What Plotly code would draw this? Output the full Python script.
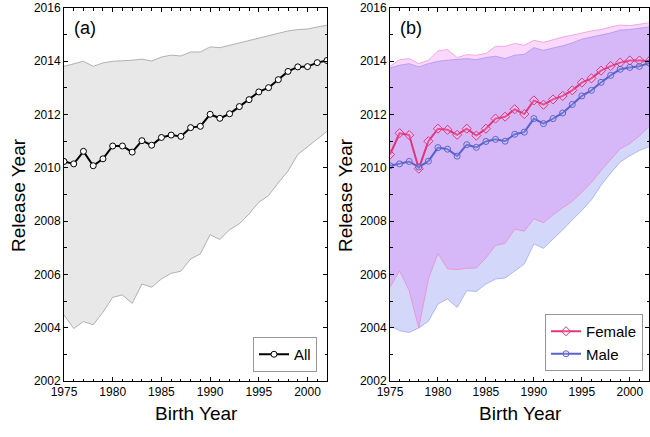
import plotly.graph_objects as go

years = list(range(1975, 2003))

all_mean = [2010.24, 2010.15, 2010.62, 2010.08, 2010.34, 2010.82, 2010.82, 2010.59, 2011.02, 2010.85,
            2011.14, 2011.23, 2011.18, 2011.51, 2011.56, 2012.01, 2011.86, 2012.03, 2012.30, 2012.56,
            2012.85, 2013.01, 2013.31, 2013.62, 2013.79, 2013.80, 2013.95, 2014.03]
all_upper = [2013.81, 2013.91, 2014.00, 2013.81, 2013.94, 2014.00, 2014.01, 2014.04, 2014.08, 2014.01,
             2014.16, 2014.23, 2014.20, 2014.35, 2014.35, 2014.54, 2014.51, 2014.60, 2014.69, 2014.79,
             2014.88, 2014.97, 2015.04, 2015.14, 2015.19, 2015.21, 2015.29, 2015.35]
all_lower = [2004.48, 2003.97, 2004.23, 2004.11, 2004.58, 2005.14, 2005.23, 2004.91, 2005.64, 2005.52,
             2005.83, 2006.04, 2006.12, 2006.58, 2006.77, 2007.49, 2007.31, 2007.68, 2007.90, 2008.27,
             2008.71, 2008.96, 2009.44, 2009.88, 2010.50, 2010.78, 2011.09, 2011.37]

female_mean = [2010.50, 2011.30, 2011.23, 2009.97, 2011.00, 2011.47, 2011.43, 2011.24, 2011.47, 2011.21,
               2011.47, 2011.85, 2011.92, 2012.20, 2012.02, 2012.53, 2012.37, 2012.57, 2012.70, 2012.91,
               2013.20, 2013.36, 2013.65, 2013.82, 2013.95, 2014.03, 2014.03, 2014.00]
female_upper = [2013.81, 2014.06, 2014.10, 2013.91, 2014.04, 2014.39, 2014.44, 2014.14, 2014.25, 2014.23,
                2014.29, 2014.56, 2014.56, 2014.67, 2014.60, 2014.79, 2014.71, 2014.82, 2014.91, 2014.98,
                2015.06, 2015.14, 2015.19, 2015.29, 2015.36, 2015.34, 2015.39, 2015.45]
female_lower = [2005.52, 2006.14, 2005.39, 2003.99, 2005.83, 2006.79, 2006.21, 2006.18, 2006.23, 2006.24,
                2006.62, 2007.09, 2007.17, 2007.70, 2007.62, 2008.09, 2007.94, 2008.24, 2008.50, 2008.75,
                2009.09, 2009.46, 2009.90, 2010.32, 2010.72, 2010.91, 2011.20, 2011.55]

male_mean = [2010.08, 2010.15, 2010.24, 2010.03, 2010.25, 2010.76, 2010.70, 2010.44, 2010.87, 2010.77,
             2010.99, 2011.07, 2011.00, 2011.26, 2011.34, 2011.85, 2011.66, 2011.85, 2012.06, 2012.38,
             2012.70, 2012.91, 2013.21, 2013.47, 2013.70, 2013.77, 2013.81, 2013.94]
male_upper = [2013.75, 2013.85, 2013.91, 2013.79, 2013.91, 2014.00, 2014.04, 2014.08, 2014.10, 2014.06,
              2014.14, 2014.19, 2014.10, 2014.23, 2014.26, 2014.51, 2014.41, 2014.50, 2014.58, 2014.69,
              2014.83, 2014.91, 2014.98, 2015.06, 2015.17, 2015.19, 2015.24, 2015.29]
male_lower = [2004.08, 2003.89, 2003.82, 2003.99, 2004.24, 2004.89, 2005.08, 2004.76, 2005.39, 2005.36,
              2005.64, 2005.83, 2005.87, 2006.14, 2006.39, 2007.15, 2006.98, 2007.33, 2007.67, 2008.05,
              2008.40, 2008.80, 2009.35, 2009.80, 2010.22, 2010.45, 2010.65, 2010.80]

x_ticks = [1975, 1980, 1985, 1990, 1995, 2000]
y_ticks = [2002, 2004, 2006, 2008, 2010, 2012, 2014, 2016]
x_range = [1975, 2002]
y_range = [2002, 2016]

FONT = "Arial, Liberation Sans, sans-serif"
W, H = 650, 437
FEM = "rgb(226,52,122)"
MAL = "rgb(88,98,204)"


def fx(px):
    return px / W


def fy(py):
    return (H - py) / H


fig = go.Figure()

# ---- panel (a)
fig.add_trace(go.Scatter(x=years, y=all_lower, mode="lines", line=dict(color="rgb(160,160,160)", width=0.8),
                         showlegend=False, hoverinfo="skip", xaxis="x", yaxis="y"))
fig.add_trace(go.Scatter(x=years, y=all_upper, mode="lines", line=dict(color="rgb(160,160,160)", width=0.8),
                         fill="tonexty", fillcolor="rgb(232,232,232)",
                         showlegend=False, hoverinfo="skip", xaxis="x", yaxis="y"))
fig.add_trace(go.Scatter(x=years, y=all_mean, mode="lines+markers", name="All",
                         line=dict(color="black", width=2),
                         marker=dict(symbol="circle", size=6, color="white", line=dict(color="black", width=1)),
                         legend="legend", xaxis="x", yaxis="y"))

# ---- panel (b)
fig.add_trace(go.Scatter(x=years, y=male_lower, mode="lines", line=dict(color="rgb(160,170,240)", width=0.8),
                         showlegend=False, hoverinfo="skip", xaxis="x2", yaxis="y2"))
fig.add_trace(go.Scatter(x=years, y=male_upper, mode="lines", line=dict(color="rgb(160,170,240)", width=0.8),
                         fill="tonexty", fillcolor="rgba(80,100,240,0.25)",
                         showlegend=False, hoverinfo="skip", xaxis="x2", yaxis="y2"))
fig.add_trace(go.Scatter(x=years, y=female_lower, mode="lines", line=dict(color="rgb(235,140,200)", width=0.8),
                         showlegend=False, hoverinfo="skip", xaxis="x2", yaxis="y2"))
fig.add_trace(go.Scatter(x=years, y=female_upper, mode="lines", line=dict(color="rgb(240,150,215)", width=0.8),
                         fill="tonexty", fillcolor="rgba(230,60,240,0.2)",
                         showlegend=False, hoverinfo="skip", xaxis="x2", yaxis="y2"))
fig.add_trace(go.Scatter(x=years, y=female_mean, mode="lines+markers", name="Female",
                         line=dict(color=FEM, width=2),
                         marker=dict(symbol="diamond", size=7, color="rgba(255,255,255,0.15)", line=dict(color=FEM, width=1)),
                         legend="legend2", xaxis="x2", yaxis="y2"))
fig.add_trace(go.Scatter(x=years, y=male_mean, mode="lines+markers", name="Male",
                         line=dict(color=MAL, width=2),
                         marker=dict(symbol="circle", size=6, color="rgba(255,255,255,0.15)", line=dict(color=MAL, width=1)),
                         legend="legend2", xaxis="x2", yaxis="y2"))


def xax(domain, anchor):
    return dict(domain=domain, anchor=anchor, range=x_range, tickvals=x_ticks,
                ticks="inside", ticklen=4, tickcolor="black", tickwidth=1,
                minor=dict(dtick=1, tick0=1975, ticks="inside", ticklen=2.5, tickcolor="black"),
                showline=True, linecolor="black", linewidth=1, mirror="ticks",
                showgrid=False, zeroline=False, automargin=False, ticklabeloverflow="allow",
                tickfont=dict(family=FONT, size=12, color="black"))


def yax(domain, anchor):
    return dict(domain=domain, anchor=anchor, range=y_range, tickvals=y_ticks,
                ticks="inside", ticklen=4, tickcolor="black", tickwidth=1,
                minor=dict(dtick=1, tick0=2002, ticks="inside", ticklen=2.5, tickcolor="black"),
                showline=True, linecolor="black", linewidth=1, mirror="ticks",
                showgrid=False, zeroline=False, automargin=False, ticklabeloverflow="allow",
                tickfont=dict(family=FONT, size=12, color="black"))


def x_out(over, anchor):
    return dict(overlaying=over, anchor=anchor, range=x_range, tickvals=x_ticks,
                ticks="outside", ticklen=4, tickcolor="black", showticklabels=False,
                showline=False, showgrid=False, zeroline=False, automargin=False)


def y_out(over, anchor):
    return dict(overlaying=over, anchor=anchor, range=y_range, tickvals=y_ticks,
                ticks="outside", ticklen=4, tickcolor="black", showticklabels=False,
                showline=False, showgrid=False, zeroline=False, automargin=False)


ydom = [fy(381), fy(8)]
fig.update_layout(
    width=W, height=H, margin=dict(l=0, r=0, t=0, b=0, autoexpand=False),
    paper_bgcolor="white", plot_bgcolor="white",
    font=dict(family=FONT, color="black"),
    xaxis=xax([fx(64), fx(327)], "y"),
    yaxis=yax(ydom, "x"),
    xaxis2=xax([fx(390), fx(649)], "y2"),
    yaxis2=yax(ydom, "x2"),
    xaxis3=x_out("x", "y"),
    yaxis3=y_out("y", "x"),
    xaxis4=x_out("x2", "y2"),
    yaxis4=y_out("y2", "x2"),
    legend=dict(x=fx(317), y=fy(372), xanchor="right", yanchor="bottom",
                bgcolor="white", bordercolor="rgb(150,150,150)", borderwidth=1,
                font=dict(family=FONT, size=15, color="black"),
                itemwidth=30, tracegroupgap=0),
    legend2=dict(x=fx(643), y=fy(371), xanchor="right", yanchor="bottom",
                 bgcolor="white", bordercolor="rgb(150,150,150)", borderwidth=1,
                 font=dict(family=FONT, size=15, color="black"),
                 itemwidth=30, tracegroupgap=0),
    showlegend=True,
)

ann = [
    dict(text="(a)", x=fx(72), y=fy(28), xanchor="left", yanchor="middle", font=dict(size=18)),
    dict(text="(b)", x=fx(398), y=fy(28), xanchor="left", yanchor="middle", font=dict(size=18)),
    dict(text="Birth Year", x=fx(196), y=fy(413), xanchor="center", yanchor="middle", font=dict(size=19)),
    dict(text="Birth Year", x=fx(520), y=fy(413), xanchor="center", yanchor="middle", font=dict(size=19)),
    dict(text="Release Year", x=fx(18), y=fy(195), xanchor="center", yanchor="middle", textangle=-90, font=dict(size=19)),
    dict(text="Release Year", x=fx(345), y=fy(195), xanchor="center", yanchor="middle", textangle=-90, font=dict(size=19)),
]
for a in ann:
    a.update(xref="paper", yref="paper", showarrow=False)
    a["font"].update(family=FONT, color="black")
fig.update_layout(annotations=ann)

fig.write_html("out.html", config={"displayModeBar": False},
               post_script="document.body.style.margin='0px';")
